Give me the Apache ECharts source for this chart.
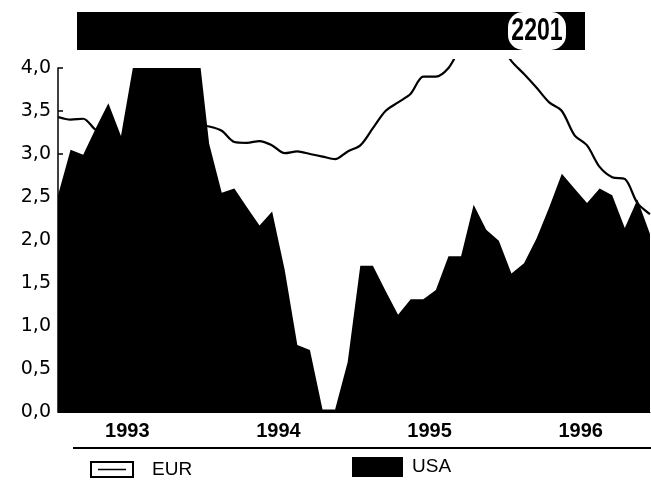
<!DOCTYPE html>
<html><head><meta charset="utf-8">
<script src="https://cdn.jsdelivr.net/npm/echarts@6/dist/echarts.min.js"></script>
<style>html,body{margin:0;padding:0;background:#fff;}#c{width:651px;height:484px;}</style>
</head><body><div id="c"></div>
<script>
// ---- data (monthly, Jan 1993 .. Dec 1996) ----
const years = ['1993', '1994', '1995', '1996'];
const seriesNames = ['EUR', 'USA'];
const eur = [3.43, 3.40, 3.41, 3.28, 3.22, 3.17, 3.20, 3.25, 3.28, 3.30, 3.32, 3.34,
             3.32, 3.27, 3.14, 3.13, 3.15, 3.10, 3.01, 3.03, 3.00, 2.97, 2.94, 3.03,
             3.10, 3.30, 3.50, 3.60, 3.70, 3.90, 3.90, 4.00, 4.24, 4.35, 4.40, 4.30,
             4.08, 3.93, 3.77, 3.60, 3.50, 3.22, 3.10, 2.85, 2.73, 2.71, 2.43, 2.30];
const usa = [2.52, 3.05, 2.99, 3.30, 3.59, 3.21, 4.05, 4.30, 4.40, 4.40, 4.40, 4.42,
             3.12, 2.55, 2.60, 2.38, 2.17, 2.33, 1.65, 0.78, 0.72, 0.03, 0.03, 0.58,
             1.70, 1.70, 1.41, 1.13, 1.31, 1.31, 1.42, 1.81, 1.81, 2.41, 2.12, 1.99,
             1.61, 1.73, 2.02, 2.38, 2.77, 2.60, 2.43, 2.60, 2.52, 2.14, 2.47, 2.07];
const yTickValues = [0, 0.5, 1, 1.5, 2, 2.5, 3, 3.5, 4];
const yTickLabels = ['0,0', '0,5', '1,0', '1,5', '2,0', '2,5', '3,0', '3,5', '4,0'];
const codeLabel = '2201';

// ---- chart ----
const yearPos = years.map((y, k) => k * 12 + 5.5);
const nMonths = usa.length;
const chart = echarts.init(document.getElementById('c'), null, {renderer: 'canvas'});
const FONT = 'Liberation Sans, Arial, Helvetica, sans-serif';
const eurIcon = 'path://M0,0 L44,0 L44,17 L0,17 Z M2,2 L2,15 L42,15 L42,2 Z M8,7.8 L36,7.8 L36,9.3 L8,9.3 Z';

chart.setOption({
  animation: false,
  backgroundColor: '#fff',
  grid: [
    {left: 58, right: 1, top: 68, bottom: 72},
    {left: 58, right: 1, top: 60, bottom: 72}
  ],
  xAxis: [
    {
      type: 'value', gridIndex: 0, min: 0, max: nMonths - 1,
      axisLine: {show: true, lineStyle: {color: '#000', width: 1}},
      axisTick: {show: false},
      splitLine: {show: false},
      axisLabel: {
        customValues: yearPos,
        formatter: (v) => years[yearPos.indexOf(v)] || '',
        color: '#000', fontSize: 20, fontWeight: 'bold', fontFamily: FONT, margin: 9
      }
    },
    {
      type: 'value', gridIndex: 1, min: 0, max: nMonths - 1, show: false
    }
  ],
  yAxis: [
    {
      type: 'value', gridIndex: 0, min: 0, max: 4,
      axisLine: {show: true, lineStyle: {color: '#000', width: 1.5}},
      axisTick: {show: true, inside: true, length: 5, customValues: yTickValues, lineStyle: {color: '#000', width: 1.5}},
      splitLine: {show: false},
      axisLabel: {
        customValues: yTickValues,
        formatter: (v) => yTickLabels[yTickValues.indexOf(v)],
        color: '#000', fontSize: 19, fontFamily: 'DejaVu Sans, sans-serif', margin: 7
      }
    },
    {
      type: 'value', gridIndex: 1, min: 0, max: 352 / 86, show: false
    }
  ],
  legend: [
    {
      data: [{name: seriesNames[0], icon: eurIcon}],
      left: 85, top: 455, itemWidth: 44, itemHeight: 17, selectedMode: false,
      itemStyle: {color: '#000', borderWidth: 0},
      textStyle: {color: '#000', fontSize: 19, fontFamily: FONT, padding: [0, 0, 0, 13]}
    },
    {
      data: [{name: seriesNames[1], icon: 'rect'}],
      left: 347, top: 452, itemWidth: 51, itemHeight: 20, selectedMode: false,
      itemStyle: {color: '#000'},
      textStyle: {color: '#000', fontSize: 19, fontFamily: FONT, padding: [0, 0, 0, 4]}
    }
  ],
  graphic: [
    {type: 'rect', shape: {x: 77, y: 12, width: 508, height: 38}, style: {fill: '#000'}, z: 10},
    {type: 'rect', shape: {x: 508, y: 12, width: 58, height: 38, r: 15}, style: {fill: '#fff'}, z: 11},
    {type: 'text', x: 537, y: 31, scaleX: 0.72, z: 12,
      style: {text: codeLabel, fill: '#000', font: 'bold 32px ' + FONT, textAlign: 'center', textVerticalAlign: 'middle'}},
    {type: 'line', shape: {x1: 73, y1: 448, x2: 651, y2: 448}, style: {stroke: '#000', lineWidth: 2}, z: 10}
  ],
  series: [
    {
      name: seriesNames[1], type: 'line', xAxisIndex: 0, yAxisIndex: 0,
      data: usa.map((v, i) => [i, v]),
      showSymbol: false, symbol: 'none',
      lineStyle: {width: 0, color: '#000'},
      itemStyle: {color: '#000'},
      areaStyle: {color: '#000', opacity: 1},
      z: 2
    },
    {
      name: seriesNames[0], type: 'line', xAxisIndex: 1, yAxisIndex: 1,
      data: eur.map((v, i) => [i, v]),
      showSymbol: false, symbol: 'none', smooth: 0.3,
      lineStyle: {width: 2.2, color: '#000'},
      itemStyle: {color: '#000'},
      z: 3
    }
  ]
});
</script></body></html>
